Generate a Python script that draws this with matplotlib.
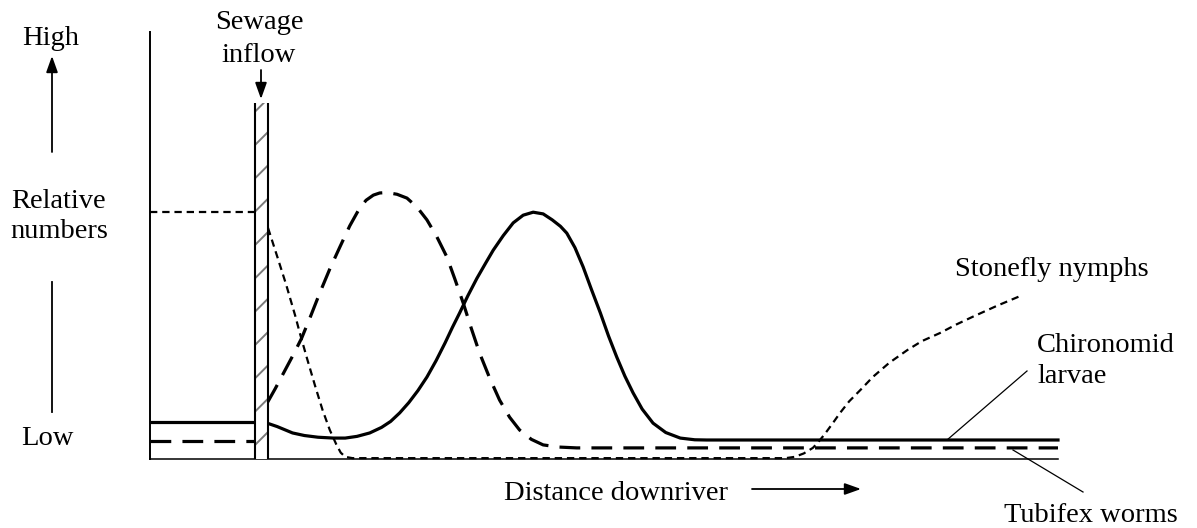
import matplotlib
matplotlib.use("Agg")
import matplotlib.pyplot as plt
from matplotlib.patches import Rectangle, FancyArrowPatch

plt.rcParams['font.family'] = ['Liberation Serif', 'DejaVu Serif']
plt.rcParams['hatch.linewidth'] = 1.4

# ---- data (distance downriver 0-100, relative numbers 0-100) ----
inflow_x = [11.56, 13.0]          # sewage inflow band
inflow_top = 83.4

chiro_up_x = [0.0, 11.56]
chiro_up_y = [8.67, 8.67]
chiro_x = [12.9, 14.0, 15.7, 17.0, 18.5, 20.2, 21.5, 22.8, 24.2, 25.5, 26.5, 27.5,
           28.5, 29.5, 30.5, 31.5, 32.5, 33.3, 34.1, 35.0, 36.0, 37.0, 37.8, 38.9,
           40.0, 41.1, 42.2, 43.3, 44.3, 45.2, 45.9, 46.8, 47.7, 48.6, 49.6, 50.5,
           51.4, 52.3, 53.2, 54.2, 55.4, 56.8, 58.4, 60.0, 61.3, 100.0]
chiro_y = [8.4, 7.6, 6.1, 5.5, 5.1, 4.9, 4.9, 5.3, 6.1, 7.4, 8.8, 10.8,
           13.2, 16.0, 19.2, 23.0, 27.2, 30.8, 34.2, 38.2, 42.3, 46.0, 48.9, 52.3,
           55.3, 57.1, 57.8, 57.4, 56.0, 54.5, 52.9, 49.5, 45.0, 39.8, 34.2, 28.8,
           23.9, 19.4, 15.5, 11.7, 8.4, 6.2, 4.9, 4.5, 4.45, 4.45]

tubi_up_x = [0.0, 11.56]
tubi_up_y = [4.2, 4.2]
tubi_x = [12.9, 13.8, 14.8, 15.8, 16.7, 17.7, 18.7, 19.8, 20.9, 22.0, 23.1, 23.8,
          24.6, 25.3, 26.1, 27.2, 28.3, 29.4, 30.5, 31.6, 32.7, 33.6, 34.5, 35.4,
          36.3, 37.4, 38.5, 39.6, 40.7, 42.0, 43.3, 45.0, 47.0, 100.0]
tubi_y = [13.1, 16.5, 20.5, 24.5, 28.3, 33.5, 38.9, 44.5, 49.6, 54.6, 58.8, 60.6,
          61.8, 62.3, 62.4, 62.0, 61.1, 59.0, 56.0, 52.0, 47.3, 42.0, 36.5, 30.5,
          24.8, 19.0, 13.8, 9.8, 6.8, 4.6, 3.3, 2.8, 2.6, 2.6]

stone_up_x = [0.0, 11.56]
stone_up_y = [57.8, 57.8]
stone_x = [13.0, 14.0, 15.0, 16.0, 16.5, 17.3, 18.2, 19.0, 19.8, 20.5, 21.0, 21.5,
           22.3, 70.0, 71.0, 72.0, 73.0, 73.5, 74.3, 75.2, 76.0, 77.0, 78.3, 79.6,
           81.4, 83.4, 85.0, 87.0, 88.8, 90.6, 93.3, 96.1]
stone_y = [54.1, 47.5, 40.8, 33.5, 29.5, 23.5, 17.0, 11.5, 6.8, 3.5, 1.5, 0.5,
           0.2, 0.2, 0.5, 1.3, 2.6, 3.7, 5.8, 8.4, 10.8, 13.5, 16.3, 19.2,
           22.5, 25.5, 27.6, 29.5, 31.5, 33.3, 35.9, 38.4]

labels = {
    "high": "High", "low": "Low", "rel": ["Relative", "numbers"],
    "sewage": ["Sewage", "inflow"], "dist": "Distance downriver",
    "stone": "Stonefly nymphs", "chiro": ["Chironomid", "larvae"],
    "tubi": "Tubifex worms",
}

W, H = 1197, 528
fig = plt.figure(figsize=(W / 100, H / 100), dpi=100)

ax = fig.add_axes([150 / W, 1 - 459 / H, 908 / W, 427 / H])
ax.set_xlim(0, 100)
ax.set_ylim(0, 100)
for s in ("top", "right"):
    ax.spines[s].set_visible(False)
ax.spines["left"].set_linewidth(1.4)
ax.spines["bottom"].set_linewidth(1.1)
ax.set_xticks([])
ax.set_yticks([])
ax.patch.set_alpha(0)

lw_main = 2.3
dash_t = (0, (6.5, 3.5))
dash_s = (0, (3.3, 2.2))

# sewage inflow band
ax.add_patch(Rectangle((inflow_x[0], 0), inflow_x[1] - inflow_x[0], inflow_top,
                       facecolor="white", edgecolor="#7a7a7a", linewidth=0,
                       hatch="/", zorder=3))
for xv in inflow_x:
    ax.plot([xv, xv], [0, inflow_top], color="black", lw=1.5, zorder=4,
            clip_on=False, solid_capstyle="butt")

ax.plot(chiro_up_x, chiro_up_y, color="black", lw=lw_main, clip_on=False,
        solid_capstyle="butt")
ax.plot(chiro_x, chiro_y, color="black", lw=lw_main, clip_on=False,
        solid_joinstyle="round")
ax.plot(tubi_up_x, tubi_up_y, color="black", lw=lw_main, ls=dash_t, clip_on=False)
ax.plot(tubi_x, tubi_y, color="black", lw=lw_main, ls=dash_t, clip_on=False)
ax.plot(stone_up_x, stone_up_y, color="black", lw=1.6, ls=dash_s, clip_on=False)
ax.plot(stone_x, stone_y, color="black", lw=1.6, ls=dash_s, clip_on=False)

# overlay for annotations in pixel space
ov = fig.add_axes([0, 0, 1, 1])
ov.set_xlim(0, W)
ov.set_ylim(H, 0)
ov.axis("off")
ov.patch.set_alpha(0)

fs = 20.5
tk = dict(fontsize=fs, color="black", va="baseline")
ov.text(51, 45, labels["high"], ha="center", **tk)
ov.text(47, 445, labels["low"], ha="center", **tk)
ov.text(58, 208, labels["rel"][0], ha="center", **tk)
ov.text(59, 238, labels["rel"][1], ha="center", **tk)
ov.text(259, 29, labels["sewage"][0], ha="center", **tk)
ov.text(259, 62, labels["sewage"][1], ha="center", **tk)
ov.text(616, 500, labels["dist"], ha="center", **tk)
ov.text(1052, 276, labels["stone"], ha="center", **tk)
ov.text(1037, 352, labels["chiro"][0], ha="left", **tk)
ov.text(1037, 383, labels["chiro"][1], ha="left", **tk)
ov.text(1091, 522, labels["tubi"], ha="center", **tk)

arrow_kw = dict(arrowstyle="-|>,head_length=0.7,head_width=0.25", color="black",
                lw=1.3, shrinkA=0, shrinkB=0, mutation_scale=14)
ov.add_patch(FancyArrowPatch((52, 152), (52, 56), **arrow_kw))
ov.plot([52, 52], [282, 412], color="black", lw=1.3)
ov.add_patch(FancyArrowPatch((261, 70), (261, 99), **arrow_kw))
ov.add_patch(FancyArrowPatch((752, 489), (861, 489), **arrow_kw))

# leader lines
ov.plot([947, 1027], [440, 371], color="black", lw=0.9)
ov.plot([1013, 1083], [450, 492], color="black", lw=0.9)

fig.savefig("out.png", dpi=100)
